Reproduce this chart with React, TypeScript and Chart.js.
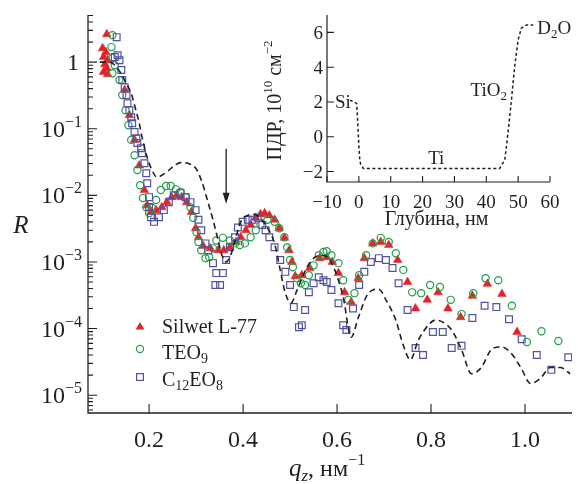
import React, { useEffect, useRef } from "react";
import { Chart, registerables } from "chart.js";
Chart.register(...registerables);

const INK = "#231f20";
const SERIF = '"Liberation Serif", "Times New Roman", serif';
const RED = "#e3232b";
const GREEN = "#1f9e4a";
const BLUE = "#5252a3";

// ---------- main chart data ----------
const SILWET_Q = [0.110, 0.101, 0.108, 0.103, 0.112, 0.106, 0.110, 0.103, 0.112, 0.148, 0.158, 0.169, 0.179, 0.190, 0.196, 0.204, 0.215, 0.227, 0.238, 0.248, 0.259, 0.269, 0.280, 0.290, 0.299, 0.305, 0.315, 0.330, 0.347, 0.359, 0.372, 0.385, 0.395, 0.406, 0.416, 0.427, 0.437, 0.446, 0.456, 0.467, 0.477, 0.488, 0.498, 0.504, 0.511, 0.525, 0.542, 0.563, 0.578, 0.590, 0.603, 0.616, 0.630, 0.645, 0.658, 0.676, 0.693, 0.710, 0.729, 0.750, 0.767, 0.792, 0.815, 0.836, 0.863, 0.888, 0.920, 0.951, 0.983];
const SILWET_R = [2.63, 1.62, 1.41, 1.19, 1.07, 0.93, 0.81, 0.71, 0.66, 0.38, 0.16, 0.068, 0.028, 0.012, 0.0071, 0.0056, 0.0060, 0.0066, 0.0079, 0.0094, 0.0100, 0.0094, 0.0079, 0.0056, 0.0032, 0.00235, 0.00173, 0.0016, 0.0015, 0.0015, 0.00166, 0.0020, 0.00235, 0.0030, 0.0036, 0.0046, 0.0052, 0.0054, 0.0050, 0.0043, 0.0032, 0.0023, 0.0015, 0.0010, 0.00061, 0.00063, 0.00081, 0.00114, 0.00118, 0.0010, 0.00068, 0.00035, 0.00025, 0.00057, 0.00114, 0.0019, 0.0020, 0.0018, 0.00107, 0.00050, 0.00020, 0.00027, 0.00035, 0.00020, 0.000148, 0.00031, 0.00047, 0.00033, 0.000089];

const TEO_Q = [0.122, 0.120, 0.122, 0.122, 0.127, 0.137, 0.143, 0.150, 0.156, 0.162, 0.169, 0.175, 0.181, 0.187, 0.194, 0.200, 0.206, 0.215, 0.225, 0.236, 0.246, 0.257, 0.267, 0.278, 0.288, 0.294, 0.301, 0.305, 0.311, 0.320, 0.328, 0.336, 0.343, 0.357, 0.372, 0.383, 0.393, 0.404, 0.416, 0.427, 0.437, 0.452, 0.467, 0.477, 0.488, 0.494, 0.500, 0.506, 0.515, 0.523, 0.532, 0.540, 0.550, 0.561, 0.571, 0.578, 0.588, 0.603, 0.613, 0.624, 0.637, 0.647, 0.662, 0.676, 0.693, 0.710, 0.725, 0.741, 0.760, 0.779, 0.798, 0.819, 0.842, 0.865, 0.890, 0.916, 0.943, 0.972, 1.004, 1.035, 1.071];
const TEO_R = [2.54, 1.68, 1.15, 0.68, 0.90, 0.54, 0.32, 0.19, 0.113, 0.068, 0.040, 0.024, 0.0142, 0.0091, 0.0066, 0.0054, 0.0065, 0.0085, 0.012, 0.0138, 0.0138, 0.0123, 0.0112, 0.0094, 0.0066, 0.0046, 0.0028, 0.0020, 0.0015, 0.00114, 0.00118, 0.0016, 0.0021, 0.0023, 0.0021, 0.0019, 0.0018, 0.0019, 0.00235, 0.0030, 0.0036, 0.0043, 0.0040, 0.0032, 0.00235, 0.00166, 0.00107, 0.00083, 0.00057, 0.00048, 0.00045, 0.00063, 0.00089, 0.00126, 0.00141, 0.00145, 0.00126, 0.00096, 0.00053, 0.00027, 0.00034, 0.00063, 0.00126, 0.0019, 0.0023, 0.0020, 0.00135, 0.00076, 0.00035, 0.00034, 0.00045, 0.00042, 0.00027, 0.000165, 0.00034, 0.00057, 0.00053, 0.00022, 0.000063, 0.000091, 0.000065];

const C12_Q = [0.131, 0.127, 0.133, 0.137, 0.141, 0.143, 0.148, 0.152, 0.154, 0.158, 0.162, 0.164, 0.169, 0.173, 0.175, 0.183, 0.185, 0.190, 0.194, 0.196, 0.200, 0.200, 0.204, 0.2105, 0.221, 0.2315, 0.242, 0.2525, 0.267, 0.278, 0.288, 0.299, 0.305, 0.311, 0.320, 0.326, 0.336, 0.343, 0.341, 0.351, 0.357, 0.364, 0.372, 0.383, 0.389, 0.399, 0.410, 0.420, 0.431, 0.441, 0.448, 0.456, 0.467, 0.479, 0.490, 0.500, 0.508, 0.519, 0.525, 0.532, 0.540, 0.550, 0.561, 0.571, 0.578, 0.588, 0.603, 0.613, 0.620, 0.634, 0.647, 0.658, 0.672, 0.689, 0.704, 0.718, 0.731, 0.750, 0.767, 0.783, 0.804, 0.825, 0.844, 0.865, 0.888, 0.914, 0.939, 0.966, 0.993, 1.025, 1.056, 1.092];
const C12_R = [2.37, 1.19, 1.27, 1.07, 0.76, 0.54, 0.42, 0.32, 0.242, 0.19, 0.149, 0.121, 0.089, 0.072, 0.061, 0.051, 0.043, 0.0304, 0.0215, 0.0152, 0.0094, 0.0067, 0.0047, 0.0040, 0.0047, 0.0060, 0.0079, 0.0100, 0.0108, 0.0094, 0.0079, 0.0060, 0.0043, 0.0030, 0.0019, 0.0015, 0.00096, 0.00068, 0.00045, 0.00045, 0.00068, 0.00107, 0.00166, 0.00235, 0.0033, 0.0040, 0.0043, 0.0043, 0.0046, 0.0036, 0.0030, 0.00235, 0.00166, 0.00107, 0.00071, 0.00045, 0.00021, 0.000105, 0.000112, 0.00019, 0.00035, 0.00048, 0.00059, 0.00053, 0.00050, 0.00038, 0.00024, 0.000112, 0.000095, 0.00020, 0.00045, 0.00071, 0.0010, 0.00114, 0.00107, 0.00081, 0.00048, 0.00019, 0.000051, 0.00004, 0.000089, 0.000089, 0.000051, 0.000055, 0.000144, 0.00022, 0.00021, 0.000138, 0.000069, 0.00004, 0.000024, 0.000037];

const MODEL_Q = [0.095, 0.11, 0.12, 0.13, 0.14, 0.15, 0.162, 0.171, 0.179, 0.185, 0.196, 0.206, 0.217, 0.227, 0.238, 0.2525, 0.267, 0.284, 0.299, 0.311, 0.326, 0.336, 0.347, 0.355, 0.364, 0.372, 0.383, 0.395, 0.41, 0.422, 0.435, 0.448, 0.467, 0.479, 0.49, 0.502, 0.515, 0.536, 0.553, 0.567, 0.582, 0.595, 0.613, 0.63, 0.645, 0.662, 0.676, 0.689, 0.704, 0.725, 0.741, 0.756, 0.773, 0.794, 0.809, 0.825, 0.844, 0.865, 0.886, 0.907, 0.928, 0.949, 0.97, 0.991, 1.012, 1.033, 1.054, 1.075, 1.096];
const MODEL_R = [1.0, 1.0, 0.98, 0.85, 0.68, 0.5, 0.34, 0.2, 0.121, 0.075, 0.037, 0.024, 0.0187, 0.020, 0.0225, 0.0275, 0.031, 0.030, 0.0257, 0.017, 0.0076, 0.0043, 0.0021, 0.00126, 0.0010, 0.00118, 0.0021, 0.0040, 0.0050, 0.0052, 0.0047, 0.0036, 0.0019, 0.00076, 0.00034, 0.00024, 0.00038, 0.00083, 0.00118, 0.00126, 0.00114, 0.00076, 0.0003, 0.000074, 0.000144, 0.0003, 0.00038, 0.00039, 0.00027, 0.000134, 0.000056, 0.000034, 0.000067, 0.000112, 0.000134, 0.000125, 0.000095, 0.000048, 0.000021, 0.000026, 0.000048, 0.000053, 0.000043, 0.000026, 0.000015, 0.000018, 0.000026, 0.000026, 0.000021];

const X_TICKS = [0.2, 0.4, 0.6, 0.8, 1.0];
const X_LABELS = ["0.2", "0.4", "0.6", "0.8", "1.0"];
const Y_TICKS = [1, 1e-1, 1e-2, 1e-3, 1e-4, 1e-5];
const Y_EXP = ["", "−1", "−2", "−3", "−4", "−5"];

const ARROW_Q = 0.364;
const ARROW_FROM = 0.05;
const ARROW_TO = 0.0075;

// ---------- inset data ----------
const DEPTH_NM = [-2.8, -0.7, -0.4, 0.0, 0.3, 0.6, 1.4, 5, 44.2, 45.8, 46.8, 47.9, 48.9, 50.0, 51.0, 52.6, 54.7];
const SLD = [2.11, 1.92, 1.0, -0.5, -1.35, -1.6, -1.82, -1.82, -1.82, -1.34, 0.2, 2.11, 4.03, 5.57, 6.24, 6.43, 6.43];
const INSET_X_TICKS = [-10, 0, 10, 20, 30, 40, 50, 60];
const INSET_X_LABELS = ["−10", "0", "10", "20", "30", "40", "50", "60"];
const INSET_Y_TICKS = [-2, 0, 2, 4, 6];
const INSET_Y_LABELS = ["−2", "0", "2", "4", "6"];
const ANNOT_X = [-7.5, 24.3, 40.8, 56.0];
const ANNOT_Y = [2.05, -1.2, 2.69, 6.28];

type Seg = { t: string; size: number; italic?: boolean; dy?: number };

function segFont(s: Seg) {
  return `${s.italic ? "italic " : ""}${s.size}px ${SERIF}`;
}
function drawRich(ctx: CanvasRenderingContext2D, segs: Seg[], x: number, y: number, align: "left" | "center" | "right") {
  let w = 0;
  for (const s of segs) {
    ctx.font = segFont(s);
    w += ctx.measureText(s.t).width;
  }
  let cx = align === "left" ? x : align === "right" ? x - w : x - w / 2;
  ctx.textAlign = "left";
  ctx.textBaseline = "alphabetic";
  for (const s of segs) {
    ctx.font = segFont(s);
    ctx.fillText(s.t, cx, y + (s.dy || 0));
    cx += ctx.measureText(s.t).width;
  }
}

function marker(ctx: CanvasRenderingContext2D, kind: string, x: number, y: number) {
  ctx.save();
  ctx.lineWidth = 1.2;
  if (kind === "triangle") {
    const r = 5;
    ctx.fillStyle = RED;
    ctx.beginPath();
    ctx.moveTo(x, y - r);
    ctx.lineTo(x + r * 0.866, y + r * 0.5);
    ctx.lineTo(x - r * 0.866, y + r * 0.5);
    ctx.closePath();
    ctx.fill();
  } else if (kind === "circle") {
    ctx.strokeStyle = GREEN;
    ctx.beginPath();
    ctx.arc(x, y, 3.6, 0, Math.PI * 2);
    ctx.stroke();
  } else {
    ctx.strokeStyle = BLUE;
    const h = 3.4;
    ctx.strokeRect(x - h, y - h, 2 * h, 2 * h);
  }
  ctx.restore();
}

const mainDecor = {
  id: "mainDecor",
  afterDraw(chart: any) {
    const ctx: CanvasRenderingContext2D = chart.ctx;
    const a = chart.chartArea;
    const xs = chart.scales.x;
    const ys = chart.scales.y;
    ctx.save();
    ctx.strokeStyle = INK;
    ctx.fillStyle = INK;
    ctx.lineWidth = 1.3;
    ctx.beginPath();
    ctx.moveTo(a.left, a.top);
    ctx.lineTo(a.left, a.bottom);
    ctx.lineTo(a.right, a.bottom);
    ctx.stroke();

    ctx.lineWidth = 1.1;
    ctx.beginPath();
    Y_TICKS.forEach((v) => {
      const p = ys.getPixelForValue(v);
      ctx.moveTo(a.left, p);
      ctx.lineTo(a.left + 9, p);
    });
    for (let d = -6; d <= 0; d++) {
      for (let m = 2; m <= 9; m++) {
        const v = m * Math.pow(10, d);
        if (v < ys.min || v > ys.max) continue;
        const p = ys.getPixelForValue(v);
        ctx.moveTo(a.left, p);
        ctx.lineTo(a.left + 5, p);
      }
    }
    X_TICKS.forEach((v) => {
      const p = xs.getPixelForValue(v);
      ctx.moveTo(p, a.bottom);
      ctx.lineTo(p, a.bottom - 9);
    });
    ctx.stroke();

    X_TICKS.forEach((v, i) => drawRich(ctx, [{ t: X_LABELS[i], size: 24 }], xs.getPixelForValue(v), a.bottom + 34, "center"));
    Y_TICKS.forEach((v, i) => {
      const p = ys.getPixelForValue(v);
      if (Y_EXP[i]) {
        drawRich(ctx, [{ t: "10", size: 24 }, { t: Y_EXP[i], size: 16, dy: -10 }], a.left - 6, p + 8, "right");
      } else {
        drawRich(ctx, [{ t: "1", size: 24 }], a.left - 9, p + 8, "right");
      }
    });

    drawRich(ctx, [{ t: "R", size: 25, italic: true }], 21, 233, "center");
    drawRich(
      ctx,
      [
        { t: "q", size: 25, italic: true },
        { t: "z", size: 17, italic: true, dy: 5 },
        { t: ", нм", size: 24 },
        { t: "−1", size: 16, dy: -11 },
      ],
      289,
      476,
      "left"
    );

    // arrow
    const ax = xs.getPixelForValue(ARROW_Q);
    const y1 = ys.getPixelForValue(ARROW_FROM);
    const y2 = ys.getPixelForValue(ARROW_TO);
    ctx.lineWidth = 1.3;
    ctx.beginPath();
    ctx.moveTo(ax, y1);
    ctx.lineTo(ax, y2 - 8);
    ctx.stroke();
    ctx.beginPath();
    ctx.moveTo(ax - 3.5, y2 - 11);
    ctx.lineTo(ax + 3.5, y2 - 11);
    ctx.lineTo(ax, y2);
    ctx.closePath();
    ctx.fill();

    // legend
    const rows: { kind: string; my: number; by: number; segs: Seg[] }[] = [
      { kind: "triangle", my: 327, by: 333, segs: [{ t: "Silwet L-77", size: 20 }] },
      { kind: "circle", my: 349, by: 359, segs: [{ t: "TEO", size: 20 }, { t: "9", size: 14, dy: 4 }] },
      {
        kind: "rect",
        my: 377,
        by: 386,
        segs: [{ t: "C", size: 20 }, { t: "12", size: 14, dy: 4 }, { t: "EO", size: 20 }, { t: "8", size: 14, dy: 4 }],
      },
    ];
    ctx.fillStyle = INK;
    rows.forEach((r) => {
      marker(ctx, r.kind, 140, r.my);
      ctx.fillStyle = INK;
      drawRich(ctx, r.segs, 162, r.by, "left");
    });
    ctx.restore();
  },
};

const insetDecor = {
  id: "insetDecor",
  afterDraw(chart: any) {
    const ctx: CanvasRenderingContext2D = chart.ctx;
    const a = chart.chartArea;
    const xs = chart.scales.x;
    const ys = chart.scales.y;
    ctx.save();
    ctx.strokeStyle = INK;
    ctx.fillStyle = INK;
    ctx.lineWidth = 1.2;
    ctx.beginPath();
    ctx.moveTo(a.left, a.top);
    ctx.lineTo(a.left, a.bottom);
    ctx.lineTo(a.right, a.bottom);
    ctx.stroke();
    ctx.lineWidth = 1.1;
    ctx.beginPath();
    INSET_Y_TICKS.forEach((v) => {
      const p = ys.getPixelForValue(v);
      ctx.moveTo(a.left, p);
      ctx.lineTo(a.left + 7, p);
    });
    INSET_X_TICKS.forEach((v) => {
      const p = xs.getPixelForValue(v);
      ctx.moveTo(p, a.bottom);
      ctx.lineTo(p, a.bottom - 6);
    });
    ctx.stroke();
    INSET_X_TICKS.forEach((v, i) =>
      drawRich(ctx, [{ t: INSET_X_LABELS[i], size: 19 }], xs.getPixelForValue(v), a.bottom + 26, "center")
    );
    INSET_Y_TICKS.forEach((v, i) =>
      drawRich(ctx, [{ t: INSET_Y_LABELS[i], size: 19 }], a.left - 4, ys.getPixelForValue(v) + 6.5, "right")
    );
    drawRich(ctx, [{ t: "Глубина, нм", size: 20 }], (a.left + a.right) / 2 - 2, a.bottom + 43, "center");

    ctx.save();
    ctx.translate(a.left - 53, (a.top + a.bottom) / 2 + 2);
    ctx.rotate(-Math.PI / 2);
    drawRich(
      ctx,
      [
        { t: "ПДР, 10", size: 20 },
        { t: "10", size: 13, dy: -9 },
        { t: " см", size: 20 },
        { t: "−2", size: 13, dy: -9 },
      ],
      0,
      7,
      "center"
    );
    ctx.restore();

    const ann: { segs: Seg[]; align: "left" | "center" | "right" }[] = [
      { segs: [{ t: "Si", size: 19 }], align: "left" },
      { segs: [{ t: "Ti", size: 19 }], align: "center" },
      { segs: [{ t: "TiO", size: 19 }, { t: "2", size: 13, dy: 4 }], align: "center" },
      { segs: [{ t: "D", size: 19 }, { t: "2", size: 13, dy: 4 }, { t: "O", size: 19 }], align: "left" },
    ];
    ann.forEach((an, i) => {
      drawRich(ctx, an.segs, xs.getPixelForValue(ANNOT_X[i]), ys.getPixelForValue(ANNOT_Y[i]) + 6.5, an.align);
    });
    ctx.restore();
  },
};

export default function App() {
  const mainRef = useRef<HTMLCanvasElement>(null);
  const insetRef = useRef<HTMLCanvasElement>(null);

  useEffect(() => {
    const pts = (qs: number[], rs: number[]) => qs.map((q, i) => ({ x: q, y: rs[i] }));
    const main = new Chart(mainRef.current as HTMLCanvasElement, {
      type: "scatter",
      data: {
        datasets: [
          {
            label: "model",
            data: pts(MODEL_Q, MODEL_R),
            showLine: true,
            borderColor: INK,
            borderWidth: 1.6,
            borderDash: [6, 4],
            pointRadius: 0,
            fill: false,
            cubicInterpolationMode: "monotone",
            order: 0,
          } as any,
          {
            label: "C12EO8",
            data: pts(C12_Q, C12_R),
            pointStyle: "rect",
            pointRadius: 4.8,
            borderColor: BLUE,
            backgroundColor: "rgba(0,0,0,0)",
            borderWidth: 1.2,
            order: 1,
          },
          {
            label: "TEO9",
            data: pts(TEO_Q, TEO_R),
            pointStyle: "circle",
            pointRadius: 3.6,
            borderColor: GREEN,
            backgroundColor: "rgba(0,0,0,0)",
            borderWidth: 1.2,
            order: 2,
          },
          {
            label: "Silwet L-77",
            data: pts(SILWET_Q, SILWET_R),
            pointStyle: "triangle",
            pointRadius: 5,
            borderColor: RED,
            backgroundColor: RED,
            borderWidth: 0.5,
            order: 3,
          },
        ],
      },
      options: {
        animation: false,
        responsive: false,
        devicePixelRatio: 1,
        events: [],
        layout: { padding: { left: 88, top: 15, right: 0, bottom: 71 } },
        plugins: { legend: { display: false }, tooltip: { enabled: false } },
        scales: {
          x: { type: "linear", min: 0.07, max: 1.1, display: false },
          y: { type: "logarithmic", min: 5.4e-6, max: 5.1, display: false },
        },
      },
      plugins: [mainDecor],
    });

    const inset = new Chart(insetRef.current as HTMLCanvasElement, {
      type: "scatter",
      data: {
        datasets: [
          {
            label: "SLD",
            data: pts(DEPTH_NM, SLD),
            showLine: true,
            borderColor: INK,
            borderWidth: 1.5,
            borderDash: [3, 2.5],
            pointRadius: 0,
            fill: false,
            clip: false,
          } as any,
        ],
      },
      options: {
        animation: false,
        responsive: false,
        devicePixelRatio: 1,
        events: [],
        layout: { padding: { left: 77, right: 28, top: 15, bottom: 58 } },
        plugins: { legend: { display: false }, tooltip: { enabled: false } },
        scales: {
          x: { type: "linear", min: -10, max: 60, display: false },
          y: { type: "linear", min: -2.6, max: 7, display: false },
        },
      },
      plugins: [insetDecor],
    });

    return () => {
      main.destroy();
      inset.destroy();
    };
  }, []);

  return (
    <div style={{ position: "absolute", left: 0, top: 0, width: 578, height: 484, background: "#fff" }}>
      <canvas
        ref={mainRef}
        width={578}
        height={484}
        style={{ position: "absolute", left: 0, top: 0, width: 578, height: 484 }}
      />
      <canvas
        ref={insetRef}
        width={328}
        height={240}
        style={{ position: "absolute", left: 250, top: 0, width: 328, height: 240 }}
      />
    </div>
  );
}
